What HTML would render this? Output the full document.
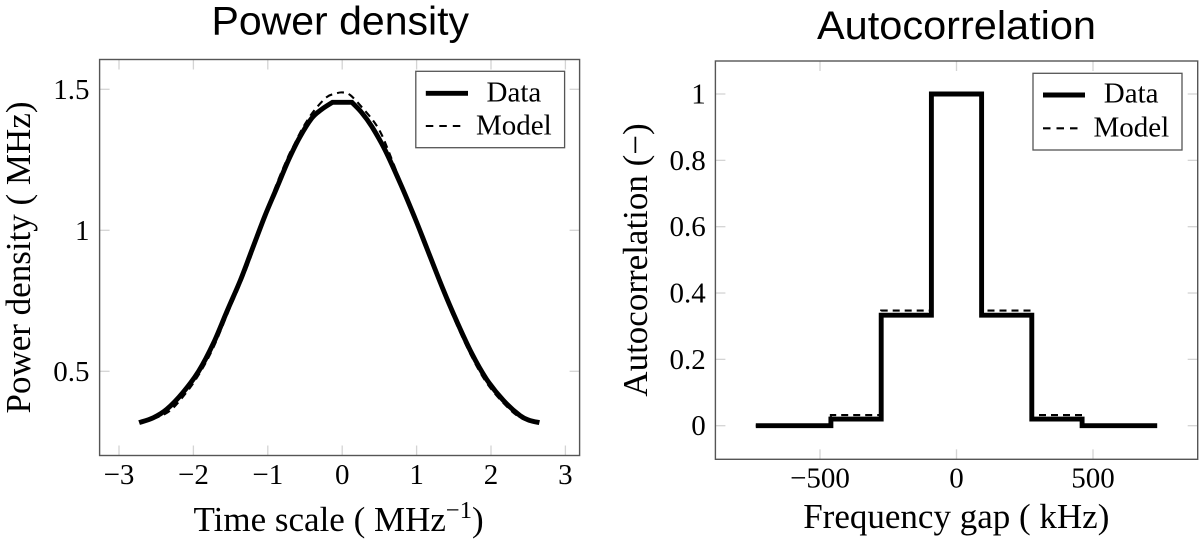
<!DOCTYPE html>
<html>
<head>
<meta charset="utf-8">
<title>Power density and autocorrelation</title>
<style>
html,body{margin:0;padding:0;background:#fff;}
svg{display:block;}
text{fill:#000;font-family:"Liberation Serif",serif;}
.sans{font-family:"Liberation Sans",sans-serif;}
</style>
</head>
<body>
<svg id="figure" xmlns="http://www.w3.org/2000/svg" width="1200" height="542" viewBox="0 0 1200 542"></svg>
<script>
// Power density panel
const psdDataX = [-2.73,-2.54,-2.36,-2.14,-1.93,-1.73,-1.55,-1.37,-1.22,-1.04,-0.88,-0.72,-0.57,-0.41,-0.28,-0.13,0.13,0.26,0.40,0.575,0.78,0.98,1.14,1.36,1.54,1.74,1.94,2.165,2.39,2.52,2.65];
const psdDataY = [0.318,0.335,0.365,0.425,0.500,0.600,0.712,0.822,0.925,1.050,1.150,1.250,1.330,1.397,1.428,1.454,1.454,1.418,1.367,1.285,1.167,1.042,0.935,0.788,0.677,0.564,0.472,0.397,0.343,0.326,0.318];
const psdModelX = [-2.70,-2.36,-2.14,-1.93,-1.73,-1.51,-1.37,-1.22,-1.04,-0.88,-0.72,-0.66,-0.57,-0.48,-0.37,-0.21,-0.10,0,0.105,0.26,0.41,0.51,0.60,0.78,0.98,1.14,1.36,1.54,1.74,1.94,2.165,2.39,2.62];
const psdModelY = [0.318,0.352,0.410,0.487,0.585,0.725,0.810,0.912,1.052,1.165,1.265,1.296,1.344,1.385,1.427,1.472,1.484,1.489,1.480,1.438,1.391,1.350,1.296,1.175,1.040,0.925,0.778,0.665,0.552,0.460,0.388,0.336,0.318];
const psdXTicks = [-3,-2,-1,0,1,2,3];
const psdYTicks = [0.5,1,1.5];
const psdXLabels = ["\u22123","\u22122","\u22121","0","1","2","3"];
const psdYLabels = ["0.5","1","1.5"];

// Autocorrelation panel
const acfEdges = [-735,-460,-276,-92,92,276,460,735];
const acfDataLevels = [0,0.02,0.333,1,0.333,0.02,0];
const acfModelLevels = [0,0.032,0.347,1,0.347,0.032,0];
const acfXTicks = [-500,0,500];
const acfYTicks = [0,0.2,0.4,0.6,0.8,1];
const acfXLabels = ["\u2212500","0","500"];
const acfYLabels = ["0","0.2","0.4","0.6","0.8","1"];

const NS = "http://www.w3.org/2000/svg";
const root = document.getElementById("figure");

function make(tag, attrs, parent, txt) {
  const e = document.createElementNS(NS, tag);
  for (const k in attrs) e.setAttribute(k, attrs[k]);
  if (txt !== undefined) e.textContent = txt;
  (parent || root).appendChild(e);
  return e;
}
function linear(d0, p0, d1, p1) {
  return function (v) { return p0 + (v - d0) * (p1 - p0) / (d1 - d0); };
}
// Smooth curve through the scaled points; a flat run keeps sharp corners.
function smoothPath(xs, ys, sx, sy) {
  const px = xs.map(sx);
  const py = ys.map(sy);
  const n = px.length;
  const tx = [];
  const ty = [];
  for (let i = 0; i < n; i++) {
    const a = Math.max(0, i - 1);
    const b = Math.min(n - 1, i + 1);
    const flatPrev = i > 0 && ys[i] === ys[i - 1];
    const flatNext = i < n - 1 && ys[i] === ys[i + 1];
    if (flatPrev || flatNext) { tx.push(null); ty.push(null); continue; }
    tx.push((px[b] - px[a]) / 2);
    ty.push((py[b] - py[a]) / 2);
  }
  let d = "M" + px[0].toFixed(1) + " " + py[0].toFixed(1);
  for (let i = 0; i < n - 1; i++) {
    const dx = px[i + 1] - px[i];
    const dy = py[i + 1] - py[i];
    const t0x = tx[i] === null ? dx : tx[i];
    const t0y = ty[i] === null ? dy : ty[i];
    const t1x = tx[i + 1] === null ? dx : tx[i + 1];
    const t1y = ty[i + 1] === null ? dy : ty[i + 1];
    d += "C" + (px[i] + t0x / 3).toFixed(1) + " " + (py[i] + t0y / 3).toFixed(1) + " " +
         (px[i + 1] - t1x / 3).toFixed(1) + " " + (py[i + 1] - t1y / 3).toFixed(1) + " " +
         px[i + 1].toFixed(1) + " " + py[i + 1].toFixed(1);
  }
  return d;
}

// ---------- left panel ----------
const L = {x0: 99.6, x1: 579.6, y0: 59.5, y1: 455.5};
const lx = linear(0, 342.2, 1, 416.6);
const ly = linear(1, 230.3, 1.5, 89.3);

const LT = make("g", {}, root);


psdXTicks.forEach(function (t, i) {
  const x = lx(t);
  const a = make("line", {x1: x, x2: x, y1: L.y1, y2: L.y1 - 10, stroke: "#d4d4d4", "stroke-width": 1.3}, LT);
  
  
  const b = make("line", {x1: x, x2: x, y1: L.y0, y2: L.y0 + 10, stroke: "#d4d4d4", "stroke-width": 1.3}, LT);
  
  
  const lab = make("text", {x: x, y: 484, "text-anchor": "middle", "font-size": 29}, root, psdXLabels[i]);
  
  
});
psdYTicks.forEach(function (t, i) {
  const y = ly(t);
  const a = make("line", {x1: L.x0, x2: L.x0 + 10, y1: y, y2: y, stroke: "#d4d4d4", "stroke-width": 1.3}, LT);
  
  
  const b = make("line", {x1: L.x1, x2: L.x1 - 10, y1: y, y2: y, stroke: "#d4d4d4", "stroke-width": 1.3}, LT);
  
  
  const lab = make("text", {x: 89.5, y: y + 9.5, "text-anchor": "end", "font-size": 29}, root, psdYLabels[i]);
  
  
});

const psdModelLine = make("path", {d: smoothPath(psdModelX, psdModelY, lx, ly), fill: "none", stroke: "#000", "stroke-width": 2.1, "stroke-dasharray": "7 5"});


const psdDataLine = make("path", {d: smoothPath(psdDataX, psdDataY, lx, ly), fill: "none", stroke: "#000", "stroke-width": 4.9, "stroke-linejoin": "miter"});



const lFrame = make("rect", {x: L.x0, y: L.y0, width: L.x1 - L.x0, height: L.y1 - L.y0, fill: "none", stroke: "#555", "stroke-width": 1.4});



const lTitle = make("text", {x: 211.5, y: 34.5, "font-size": 39.5, "class": "sans", textLength: 257.5, lengthAdjust: "spacingAndGlyphs"}, root, "Power density");



const lXT = make("text", {x: 193.5, y: 531, "font-size": 35});


make("tspan", {}, lXT, "Time scale ( MHz");
make("tspan", {"font-size": 24.5, dy: -13}, lXT, "\u22121");
make("tspan", {dy: 13}, lXT, ")");

const lYT = make("text", {transform: "translate(30,257.5) rotate(-90)", "text-anchor": "middle", "font-size": 35}, root, "Power density ( MHz)");



// ---------- right panel ----------
const R = {x0: 715.4, x1: 1197.7, y0: 61, y1: 459.3};
const rx = linear(0, 956.5, 500, 1093);
const ry = linear(0, 425.7, 1, 94);

const RT = make("g", {}, root);


acfXTicks.forEach(function (t, i) {
  const x = rx(t);
  const a = make("line", {x1: x, x2: x, y1: R.y1, y2: R.y1 - 10, stroke: "#d4d4d4", "stroke-width": 1.3}, RT);
  
  
  const b = make("line", {x1: x, x2: x, y1: R.y0, y2: R.y0 + 10, stroke: "#d4d4d4", "stroke-width": 1.3}, RT);
  
  
  const lab = make("text", {x: x, y: 487.5, "text-anchor": "middle", "font-size": 29}, root, acfXLabels[i]);
  
  
});
acfYTicks.forEach(function (t, i) {
  const y = ry(t);
  const a = make("line", {x1: R.x0, x2: R.x0 + 10, y1: y, y2: y, stroke: "#d4d4d4", "stroke-width": 1.3}, RT);
  
  
  const b = make("line", {x1: R.x1, x2: R.x1 - 10, y1: y, y2: y, stroke: "#d4d4d4", "stroke-width": 1.3}, RT);
  
  
  const lab = make("text", {x: 705.8, y: y + 9.5, "text-anchor": "end", "font-size": 29}, root, acfYLabels[i]);
  
  
});

function stepPoints(edges, levels) {
  const pts = [];
  levels.forEach(function (v, i) {
    pts.push(rx(edges[i]).toFixed(1) + "," + ry(v).toFixed(1));
    pts.push(rx(edges[i + 1]).toFixed(1) + "," + ry(v).toFixed(1));
  });
  return pts.join(" ");
}
const acfModelLine = make("polyline", {points: stepPoints(acfEdges, acfModelLevels), fill: "none", stroke: "#000", "stroke-width": 2.1, "stroke-dasharray": "7 5"});


const acfDataLine = make("polyline", {points: stepPoints(acfEdges, acfDataLevels), fill: "none", stroke: "#000", "stroke-width": 4.9, "stroke-linejoin": "miter"});



const rFrame = make("rect", {x: R.x0, y: R.y0, width: R.x1 - R.x0, height: R.y1 - R.y0, fill: "none", stroke: "#555", "stroke-width": 1.4});



const rTitle = make("text", {x: 817, y: 39, "font-size": 39.5, "class": "sans", textLength: 279, lengthAdjust: "spacingAndGlyphs"}, root, "Autocorrelation");



const rXT = make("text", {x: 956.3, y: 528, "text-anchor": "middle", "font-size": 35}, root, "Frequency gap ( kHz)");



const rYT = make("text", {transform: "translate(647,260) rotate(-90)", "text-anchor": "middle", "font-size": 35}, root, "Autocorrelation (\u2212)");



// ---------- legends ----------
const legL = make("g", {});


const legLBox = make("rect", {x: 415.8, y: 71.3, width: 148.8, height: 76.4, fill: "#fff", stroke: "#555", "stroke-width": 1.3}, legL);


const legLS1 = make("line", {x1: 425.8, x2: 468, y1: 93.3, y2: 93.3, stroke: "#000", "stroke-width": 4.9}, legL);


const legLT1 = make("text", {x: 486.5, y: 101.5, "font-size": 29}, legL, "Data");


const legLS2 = make("line", {x1: 425.8, x2: 463.5, y1: 126, y2: 126, stroke: "#000", "stroke-width": 2.1, "stroke-dasharray": "7.5 6"}, legL);


const legLT2 = make("text", {x: 476, y: 134.3, "font-size": 29}, legL, "Model");



const legR = make("g", {});


const legRBox = make("rect", {x: 1033, y: 73.3, width: 149, height: 76.7, fill: "#fff", stroke: "#555", "stroke-width": 1.3}, legR);


const legRS1 = make("line", {x1: 1043, x2: 1085, y1: 95, y2: 95, stroke: "#000", "stroke-width": 4.9}, legR);


const legRT1 = make("text", {x: 1103.8, y: 102.5, "font-size": 29}, legR, "Data");


const legRS2 = make("line", {x1: 1043, x2: 1081, y1: 128.3, y2: 128.3, stroke: "#000", "stroke-width": 2.1, "stroke-dasharray": "7.5 6"}, legR);


const legRT2 = make("text", {x: 1093.5, y: 136.3, "font-size": 29}, legR, "Model");


</script>
</body>
</html>
